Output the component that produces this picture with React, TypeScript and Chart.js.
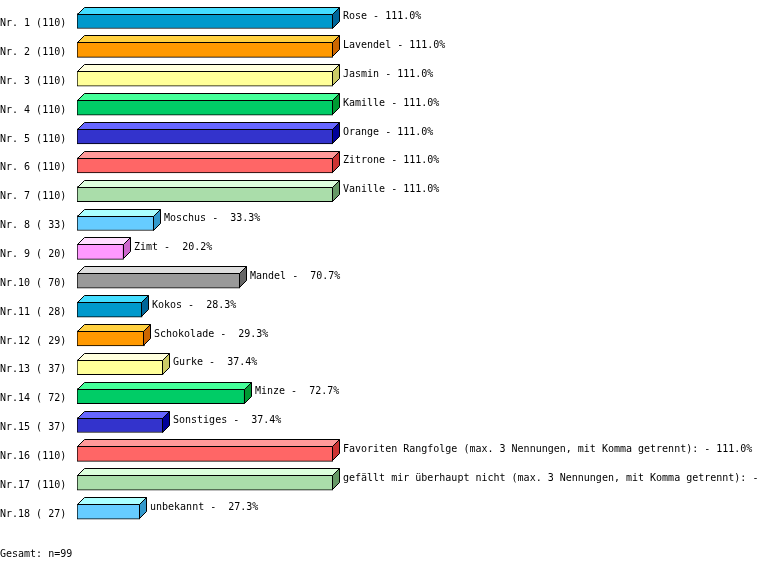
import React, { useEffect, useRef } from "react";
import { Chart, registerables } from "chart.js";

Chart.register(...registerables);

const names = [
  "Rose", "Lavendel", "Jasmin", "Kamille", "Orange", "Zitrone", "Vanille",
  "Moschus", "Zimt", "Mandel", "Kokos", "Schokolade", "Gurke", "Minze",
  "Sonstiges",
  "Favoriten Rangfolge (max. 3 Nennungen, mit Komma getrennt):",
  "gefällt mir überhaupt nicht (max. 3 Nennungen, mit Komma getrennt):",
  "unbekannt",
];
const counts = [110, 110, 110, 110, 110, 110, 110, 33, 20, 70, 28, 29, 37, 72, 37, 110, 110, 27];
const percents = [111.0, 111.0, 111.0, 111.0, 111.0, 111.0, 111.0, 33.3, 20.2, 70.7, 28.3, 29.3, 37.4, 72.7, 37.4, 111.0, 111.0, 27.3];
const total = 99;

const frontColors = ["#0099cc", "#ff9900", "#ffff99", "#00cc66", "#3333cc", "#ff6666", "#aaddaa", "#66ccff", "#ff99ff", "#999999"];
const topColors = ["#44ddff", "#ffd040", "#ffffdd", "#44ff99", "#6666ff", "#ff9999", "#ddffdd", "#aaffff", "#ffddff", "#dddddd"];
const sideColors = ["#006699", "#cc6600", "#cccc66", "#009933", "#000099", "#cc3333", "#669966", "#3399cc", "#cc66cc", "#666666"];

const FONT = "'DejaVu Sans Mono', monospace";

const tickLabels = counts.map(
  (c, i) => `Nr.${String(i + 1).padStart(2, " ")} (${String(c).padStart(3, " ")})`
);
const valueLabels = names.map(
  (n, i) => `${n} - ${percents[i].toFixed(1).padStart(5, " ")}%`
);

const DX = 7;
const DY = 7;

const bar3d = {
  id: "bar3d",
  afterDatasetsDraw(chart: any) {
    const ctx = chart.ctx;
    const meta = chart.getDatasetMeta(0);
    ctx.save();
    ctx.lineWidth = 1;
    ctx.strokeStyle = "#000000";
    meta.data.forEach((el: any, i: number) => {
      const p = el.getProps(["x", "y", "base", "height"], true);
      const x0 = Math.round(p.base) + 0.5;
      const x1 = Math.round(p.x) - 0.5;
      const top = Math.round(p.y - p.height / 2) + 0.5;
      const bot = Math.round(p.y + p.height / 2) - 0.5;
      const ci = i % frontColors.length;
      // top face
      ctx.beginPath();
      ctx.moveTo(x0, top);
      ctx.lineTo(x0 + DX, top - DY);
      ctx.lineTo(x1 + DX, top - DY);
      ctx.lineTo(x1, top);
      ctx.closePath();
      ctx.fillStyle = topColors[ci];
      ctx.fill();
      ctx.stroke();
      // side face
      ctx.beginPath();
      ctx.moveTo(x1, top);
      ctx.lineTo(x1 + DX, top - DY);
      ctx.lineTo(x1 + DX, bot - DY);
      ctx.lineTo(x1, bot);
      ctx.closePath();
      ctx.fillStyle = sideColors[ci];
      ctx.fill();
      ctx.stroke();
    });
    ctx.restore();
  },
  afterDraw(chart: any) {
    const ctx = chart.ctx;
    const meta = chart.getDatasetMeta(0);
    ctx.save();
    ctx.font = `10px ${FONT}`;
    ctx.fillStyle = "#000000";
    ctx.textAlign = "left";
    ctx.textBaseline = "middle";
    meta.data.forEach((el: any, i: number) => {
      const p = el.getProps(["x", "y"], true);
      ctx.fillText(valueLabels[i], Math.round(p.x) + DX + 3, p.y - 4.5);
    });
    ctx.fillText(`Gesamt: n=${total}`, 0, 554);
    ctx.restore();
  },
};

export default function App() {
  const ref = useRef<HTMLCanvasElement>(null);
  useEffect(() => {
    if (!ref.current) return;
    const chart = new Chart(ref.current, {
      type: "bar",
      data: {
        labels: tickLabels,
        datasets: [
          {
            data: counts,
            backgroundColor: counts.map((_, i) => frontColors[i % frontColors.length]),
            borderColor: "#000000",
            borderWidth: 1,
            borderSkipped: false,
            barThickness: 15,
          },
        ],
      },
      options: {
        indexAxis: "y",
        animation: false,
        responsive: false,
        maintainAspectRatio: false,
        layout: { padding: { left: 0, top: 6.6, bottom: 45, right: 432 } },
        plugins: { legend: { display: false }, tooltip: { enabled: false } },
        scales: {
          x: { display: false, min: 0, max: 110 },
          y: {
            grid: { display: false },
            border: { display: false },
            afterFit: (s: any) => {
              s.width = 77;
              s.paddingTop = 0;
              s.paddingBottom = 0;
            },
            ticks: {
              crossAlign: "far",
              labelOffset: 2.5,
              color: "#000000",
              font: { family: FONT, size: 10 },
              autoSkip: false,
            },
          },
        },
      },
      plugins: [bar3d],
    } as any);
    return () => chart.destroy();
  }, []);
  return (
    <div style={{ position: "fixed", left: 0, top: 0, width: 765, height: 571, background: "#ffffff" }}>
      <canvas ref={ref} width={765} height={571} style={{ display: "block" }} />
    </div>
  );
}
